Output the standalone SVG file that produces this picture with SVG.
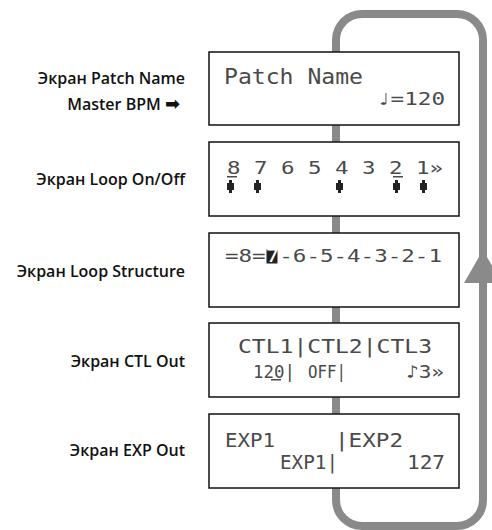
<svg xmlns="http://www.w3.org/2000/svg" width="492" height="530" viewBox="0 0 492 530">
<style>
.lbl{font-family:"Open Sans","Noto Sans","DejaVu Sans",sans-serif;font-weight:600;font-size:16px;fill:#111;text-anchor:end}
.box{fill:#fff;stroke:#111;stroke-width:1.5}
.lcd{font-family:"DejaVu Sans Mono","Liberation Mono",monospace;fill:#4a4a4a}
.loop{fill:none;stroke:#8a8a8a;stroke-width:8}
</style>
<defs>
<path id="pedal" d="M2,0h3v3h2v7h-2v3h-3v-3h-2v-7h2z" fill="#222"/>
</defs>
<g id="connectors">
<rect class="loop" x="336" y="14" width="147" height="512" rx="26"/>
<polygon points="483,250 464,283 502,283" fill="#8a8a8a"/>
</g>
<g id="labels">
<text class="lbl" x="185" y="84">Экран Patch Name</text>
<text class="lbl" x="180" y="110">Master BPM <tspan font-size="18" font-family="DejaVu Sans,sans-serif">➡</tspan></text>
<text class="lbl" x="185" y="185">Экран Loop On/Off</text>
<text class="lbl" x="185" y="277">Экран Loop Structure</text>
<text class="lbl" x="185" y="367">Экран CTL Out</text>
<text class="lbl" x="185" y="456">Экран EXP Out</text>
</g>
<g id="patch-name">
<rect class="box" x="209" y="52" width="250" height="73"/>
<text class="lcd" x="224" y="84" font-size="22" textLength="139" lengthAdjust="spacingAndGlyphs">Patch Name</text>
<text class="lcd" x="377" y="105" font-size="17" textLength="68" lengthAdjust="spacingAndGlyphs">♩=120</text>
</g>
<g id="loop-onoff">
<rect class="box" x="209" y="142" width="250" height="74"/>
<text class="lcd" x="227" y="174" font-size="17" textLength="216" lengthAdjust="spacingAndGlyphs">8 7 6 5 4 3 2 1»</text>
<rect x="227" y="176" width="10" height="1.5" fill="#4a4a4a"/>
<rect x="393" y="176" width="10" height="1.5" fill="#4a4a4a"/>
<use href="#pedal" x="227" y="180"/>
<use href="#pedal" x="254" y="180"/>
<use href="#pedal" x="336" y="180"/>
<use href="#pedal" x="393" y="180"/>
<use href="#pedal" x="420" y="180"/>
</g>
<g id="loop-structure">
<rect class="box" x="209" y="233" width="250" height="74"/>
<rect x="266.5" y="249.5" width="11" height="14" fill="#222"/>
<text class="lcd" x="225" y="262" font-size="17" textLength="217" lengthAdjust="spacingAndGlyphs">=8=<tspan fill="#fff">7</tspan>-6-5-4-3-2-1</text>
</g>
<g id="ctl-out">
<rect class="box" x="209" y="323" width="250" height="74"/>
<text class="lcd" x="238" y="353" font-size="20" textLength="194" lengthAdjust="spacingAndGlyphs">CTL1|CTL2|CTL3</text>
<text class="lcd" x="253" y="378" font-size="18" textLength="42" lengthAdjust="spacingAndGlyphs">120|</text>
<rect x="271" y="379" width="10" height="1.5" fill="#4a4a4a"/>
<text class="lcd" x="308" y="378" font-size="18" textLength="38" lengthAdjust="spacingAndGlyphs">OFF|</text>
<text class="lcd" x="406" y="378" font-size="18" textLength="38" lengthAdjust="spacingAndGlyphs">♪3»</text>
</g>
<g id="exp-out">
<rect class="box" x="209" y="414" width="250" height="74"/>
<text class="lcd" x="225" y="447" font-size="19" textLength="50" lengthAdjust="spacingAndGlyphs">EXP1</text>
<text class="lcd" x="335" y="447" font-size="19" textLength="68" lengthAdjust="spacingAndGlyphs">|EXP2</text>
<text class="lcd" x="280" y="469" font-size="19" textLength="58" lengthAdjust="spacingAndGlyphs">EXP1|</text>
<text class="lcd" x="407" y="469" font-size="19" textLength="38" lengthAdjust="spacingAndGlyphs">127</text>
</g>
</svg>
